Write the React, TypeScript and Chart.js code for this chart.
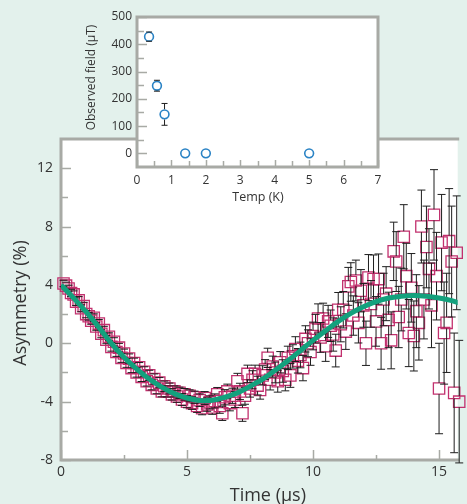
import React, { useEffect, useRef } from "react";
import { Chart, registerables } from "chart.js";

Chart.register(...registerables);

const FONT = '"Open Sans", "Noto Sans", sans-serif';
const MINT = "#e3f1ec";
const AXIS_GRAY = "#a8aaa5";
const TEXT = "#333333";
const MAGENTA = "#c2306e";
const GREEN = "#13a17d";
const BLUE = "#2a83c5";
const BAR = "#1e1e1e";

// ---- main panel: muon spin asymmetry vs time ----
const timeUs = [
  0.1, 0.2, 0.3, 0.4, 0.5, 0.6, 0.7, 0.8, 0.9, 1.0,
  1.1, 1.2, 1.3, 1.4, 1.5, 1.6, 1.7, 1.8, 1.9, 2.0,
  2.1, 2.2, 2.3, 2.4, 2.5, 2.6, 2.7, 2.8, 2.9, 3.0,
  3.1, 3.2, 3.3, 3.4, 3.5, 3.6, 3.7, 3.8, 3.9, 4.0,
  4.1, 4.2, 4.3, 4.4, 4.5, 4.6, 4.7, 4.8, 4.9, 5.0,
  5.1, 5.2, 5.3, 5.4, 5.5, 5.6, 5.7, 5.8, 5.9, 6.0,
  6.1, 6.2, 6.3, 6.4, 6.5, 6.6, 6.7, 6.8, 6.9, 7.0,
  7.1, 7.2, 7.3, 7.4, 7.5, 7.6, 7.7, 7.8, 7.9, 8.0,
  8.1, 8.2, 8.3, 8.4, 8.5, 8.6, 8.7, 8.8, 8.9, 9.0,
  9.1, 9.2, 9.3, 9.4, 9.5, 9.6, 9.7, 9.8, 9.9, 10.0,
  10.1, 10.2, 10.3, 10.4, 10.5, 10.6, 10.7, 10.8, 10.9, 11.0,
  11.1, 11.2, 11.3, 11.4, 11.5, 11.6, 11.7, 11.8, 11.9, 12.0,
  12.1, 12.2, 12.3, 12.4, 12.5, 12.6, 12.7, 12.8, 12.9, 13.0,
  13.1, 13.2, 13.3, 13.4, 13.5, 13.6, 13.7, 13.8, 13.9, 14.0,
  14.1, 14.2, 14.3, 14.4, 14.5, 14.6, 14.7, 14.8, 14.9, 15.0,
  15.1, 15.2, 15.3, 15.4, 15.5, 15.6, 15.7, 15.8,
];

const asymmetry = [
  4.1, 3.95, 3.75, 3.45, 3.35, 2.85, 2.95, 2.4, 2.55, 2.0,
  1.85, 1.55, 1.75, 1.15, 1.35, 0.65, 0.9, 0.25, 0.45, -0.25,
  0.1, -0.6, -0.3, -1.0, -0.7, -1.35, -1.05, -1.7, -1.35, -2.0,
  -1.65, -2.3, -1.95, -2.6, -2.2, -2.85, -2.45, -3.1, -2.7, -3.3,
  -2.95, -3.3, -3.1, -3.5, -3.3, -3.65, -3.4, -3.85, -3.5, -4.0,
  -3.6, -4.1, -3.7, -4.3, -3.9, -4.45, -3.75, -4.2, -4.05, -4.4,
  -3.95, -3.5, -4.3, -4.8, -3.7, -3.3, -4.1, -3.6, -3.85, -2.6,
  -3.3, -4.8, -3.6, -2.1, -3.1, -2.5, -2.1, -2.9, -3.2, -2.2,
  -1.8, -1.0, -2.5, -1.6, -2.0, -2.6, -1.3, -1.9, -2.5, -1.0,
  -2.2, -0.9, -0.4, -1.2, -0.8, -1.7, 0.3, 0.0, -0.6, 0.5,
  1.0, 1.7, 0.4, 1.7, -0.2, 1.5, 1.2, 0.6, -0.5, 2.3,
  1.3, 2.3, 0.8, 3.9, 4.2, 1.9, 4.3, 1.4, 3.6, 2.6,
  0.0, 4.5, 2.7, 4.4, 1.5, 4.4, 0.0, 3.0, 3.4, 1.6,
  0.2, 6.3, 5.6, 1.8, 3.0, 7.3, 4.6, 0.7, 3.8, 0.5,
  2.2, 1.4, 8.0, 3.0, 6.6, 5.1, 2.6, 8.8, 4.6, -3.1,
  6.9, 0.7, 1.4, 7.0, 5.6, -3.4, 6.2, -4.0,
];

const asymmetryErr = [
  0.22, 0.24, 0.23, 0.25, 0.24, 0.26, 0.25, 0.24, 0.26, 0.25,
  0.26, 0.25, 0.27, 0.26, 0.28, 0.27, 0.26, 0.28, 0.27, 0.29,
  0.28, 0.3, 0.29, 0.31, 0.3, 0.3, 0.32, 0.31, 0.33, 0.32,
  0.33, 0.32, 0.34, 0.33, 0.35, 0.34, 0.35, 0.36, 0.35, 0.37,
  0.36, 0.38, 0.37, 0.39, 0.38, 0.4, 0.39, 0.41, 0.4, 0.42,
  0.41, 0.43, 0.42, 0.44, 0.43, 0.45, 0.44, 0.46, 0.45, 0.47,
  0.48, 0.47, 0.5, 0.49, 0.52, 0.5, 0.53, 0.52, 0.55, 0.54,
  0.56, 0.55, 0.58, 0.6, 0.59, 0.62, 0.6, 0.64, 0.63, 0.66,
  0.68, 0.66, 0.7, 0.72, 0.71, 0.75, 0.73, 0.77, 0.76, 0.8,
  0.82, 0.8, 0.85, 0.84, 0.88, 0.87, 0.9, 0.92, 0.91, 0.95,
  0.98, 1.0, 1.02, 1.05, 1.04, 1.1, 1.08, 1.14, 1.12, 1.18,
  1.2, 1.25, 1.22, 1.3, 1.32, 1.35, 1.4, 1.38, 1.45, 1.5,
  1.52, 1.58, 1.6, 1.65, 1.7, 1.72, 1.78, 1.8, 1.85, 1.9,
  1.95, 2.0, 2.05, 2.1, 2.15, 2.2, 2.25, 2.3, 2.35, 2.4,
  2.5, 2.55, 2.5, 2.7, 2.8, 2.75, 2.9, 3.1, 3.0, 3.1,
  3.3, 3.5, 3.4, 3.6, 3.8, 4.1, 3.9, 4.2,
];

// fitted curve
const fitTime = [
  0, 0.5, 1, 1.5, 2, 2.5, 3, 3.5, 4, 4.5, 5, 5.5, 6, 6.5, 7, 7.5,
  8, 8.5, 9, 9.5, 10, 10.5, 11, 11.5, 12, 12.5, 13, 13.5, 14, 14.5, 15, 15.5, 16,
];
const fitAsym = [
  4.0, 3.1, 2.15, 1.1, 0.0, -0.95, -1.75, -2.45, -3.0, -3.45, -3.75, -3.92, -3.9, -3.7, -3.4, -2.95,
  -2.45, -1.85, -1.2, -0.5, 0.2, 0.85, 1.5, 2.05, 2.5, 2.85, 3.1, 3.22, 3.27, 3.22, 3.1, 2.92, 2.65,
];

const xTickValues = [0, 5, 10, 15];
const xMinorTickValues = [2.5, 7.5, 12.5];
const yTickValues = [-8, -4, 0, 4, 8, 12];
const yMinorTickValues = [-6, -2, 2, 6, 10];
const xMin = 0;
const xMax = 15.74;
const yMin = -8;
const yMax = 14;

// ---- inset: observed field vs temperature ----
const tempK = [0.35, 0.58, 0.8, 1.4, 2.0, 5.0];
const fieldUT = [428, 248, 143, 0, 0, 0];
const fieldErr = [17, 20, 40, 0, 0, 0];
const insetXTickValues = [0, 1, 2, 3, 4, 5, 6, 7];
const insetXMinorTickValues = [0.5, 1.5, 2.5, 3.5, 4.5, 5.5, 6.5];
const insetYTickValues = [0, 100, 200, 300, 400, 500];
const insetYMinorTickValues = [50, 150, 250, 350, 450];

type TickSet = { values: number[]; len: number };

function makeFramePlugin(cfg: {
  pageColor?: string;
  sides: { top: boolean; right: boolean; bottom: boolean; left: boolean };
  xTicks: TickSet[];
  yTicks: TickSet[];
}) {
  return {
    id: "frame",
    beforeDraw(chart: any) {
      const { ctx, chartArea: a } = chart;
      ctx.save();
      if (cfg.pageColor) {
        ctx.fillStyle = cfg.pageColor;
        ctx.fillRect(0, 0, chart.width, chart.height);
      }
      ctx.fillStyle = "#ffffff";
      ctx.fillRect(a.left, a.top, a.right - a.left, a.bottom - a.top);
      ctx.restore();
    },
    beforeDatasetsDraw(chart: any) {
      const { ctx, chartArea: a } = chart;
      const xs = chart.scales.x;
      const ys = chart.scales.y;
      ctx.save();
      ctx.strokeStyle = AXIS_GRAY;
      ctx.lineWidth = 1.5;
      ctx.beginPath();
      cfg.xTicks.forEach((set) => {
        set.values.forEach((v) => {
          const x = Math.round(xs.getPixelForValue(v)) + 0.5;
          ctx.moveTo(x, a.bottom);
          ctx.lineTo(x, a.bottom - set.len);
        });
      });
      cfg.yTicks.forEach((set) => {
        set.values.forEach((v) => {
          const y = Math.round(ys.getPixelForValue(v)) + 0.5;
          ctx.moveTo(a.left, y);
          ctx.lineTo(a.left + set.len, y);
        });
      });
      ctx.stroke();
      ctx.lineWidth = 3;
      ctx.lineCap = "square";
      ctx.beginPath();
      if (cfg.sides.left) {
        ctx.moveTo(a.left, a.top);
        ctx.lineTo(a.left, a.bottom);
      }
      if (cfg.sides.bottom) {
        ctx.moveTo(a.left, a.bottom);
        ctx.lineTo(a.right, a.bottom);
      }
      if (cfg.sides.top) {
        ctx.moveTo(a.left, a.top);
        ctx.lineTo(a.right, a.top);
      }
      if (cfg.sides.right) {
        ctx.moveTo(a.right, a.top);
        ctx.lineTo(a.right, a.bottom);
      }
      ctx.stroke();
      ctx.restore();
    },
  };
}

function makeErrorBarPlugin(datasetIndex: number, errors: number[], markerHalf: number, capHalf: number) {
  return {
    id: "errorBars" + datasetIndex,
    afterDatasetDraw(chart: any, args: any) {
      if (args.index !== datasetIndex) return;
      const xs = chart.scales.x;
      const ys = chart.scales.y;
      const ctx = chart.ctx;
      const data = chart.data.datasets[datasetIndex].data as { x: number; y: number }[];
      ctx.save();
      ctx.strokeStyle = BAR;
      ctx.lineWidth = 1;
      ctx.beginPath();
      data.forEach((d, i) => {
        const e = errors[i];
        if (!e) return;
        const x = xs.getPixelForValue(d.x);
        const y = ys.getPixelForValue(d.y);
        const yTop = ys.getPixelForValue(d.y + e);
        const yBot = ys.getPixelForValue(d.y - e);
        if (y - yTop > markerHalf) {
          ctx.moveTo(x, yTop);
          ctx.lineTo(x, y - markerHalf);
          ctx.moveTo(x, y + markerHalf);
          ctx.lineTo(x, yBot);
        }
        ctx.moveTo(x - capHalf, yTop);
        ctx.lineTo(x + capHalf, yTop);
        ctx.moveTo(x - capHalf, yBot);
        ctx.lineTo(x + capHalf, yBot);
      });
      ctx.stroke();
      ctx.restore();
    },
  };
}

type TitleItem = {
  text: string;
  size: number;
  rotate: boolean;
  anchor: "bottom" | "left";
  dx: number;
  dy: number;
};

function makeTitlePlugin(items: TitleItem[]) {
  return {
    id: "axisTitles",
    afterDraw(chart: any) {
      const { ctx, chartArea: a } = chart;
      items.forEach((it) => {
        ctx.save();
        ctx.fillStyle = TEXT;
        ctx.font = `${it.size}px ${FONT}`;
        ctx.textAlign = "center";
        ctx.textBaseline = "alphabetic";
        if (it.anchor === "bottom") {
          ctx.fillText(it.text, (a.left + a.right) / 2 + it.dx, a.bottom + it.dy);
        } else {
          ctx.translate(a.left + it.dx, (a.top + a.bottom) / 2 + it.dy);
          if (it.rotate) ctx.rotate(-Math.PI / 2);
          ctx.fillText(it.text, 0, 0);
        }
        ctx.restore();
      });
    },
  };
}

export default function App() {
  const mainRef = useRef<HTMLCanvasElement | null>(null);
  const insetRef = useRef<HTMLCanvasElement | null>(null);

  useEffect(() => {
    const mainPoints = timeUs.map((t, i) => ({ x: t, y: asymmetry[i] }));
    const fitPoints = fitTime.map((t, i) => ({ x: t, y: fitAsym[i] }));

    const main = new Chart(mainRef.current as HTMLCanvasElement, {
      type: "scatter",
      data: {
        datasets: [
          {
            data: fitPoints,
            showLine: true,
            pointRadius: 0,
            borderColor: GREEN,
            borderWidth: 5,
            tension: 0.4,
            order: 0,
          } as any,
          {
            data: mainPoints,
            pointStyle: "rect",
            pointRadius: 8,
            pointBorderWidth: 1.3,
            pointBorderColor: MAGENTA,
            pointBackgroundColor: "rgba(0,0,0,0)",
            borderColor: MAGENTA,
            backgroundColor: "rgba(0,0,0,0)",
            clip: false,
            order: 1,
          } as any,
        ],
      },
      options: {
        animation: false,
        responsive: false,
        events: [],
        layout: { padding: { top: 139, left: 0, right: 0, bottom: 0 } },
        plugins: { legend: { display: false }, tooltip: { enabled: false } },
        scales: {
          x: {
            type: "linear",
            min: xMin,
            max: xMax,
            grid: { display: false, drawTicks: false },
            border: { display: false },
            afterFit: (s: any) => {
              s.height = 44;
            },
            afterBuildTicks: (s: any) => {
              s.ticks = xTickValues.map((v) => ({ value: v }));
            },
            ticks: {
              padding: 4,
              color: TEXT,
              autoSkip: false,
              maxRotation: 0,
              font: { family: FONT, size: 14 },
              callback: (v: any) => String(v),
            },
          },
          y: {
            type: "linear",
            min: yMin,
            max: yMax,
            grid: { display: false, drawTicks: false },
            border: { display: false },
            afterFit: (s: any) => {
              s.width = 61;
            },
            afterBuildTicks: (s: any) => {
              s.ticks = yTickValues.map((v) => ({ value: v }));
            },
            ticks: {
              padding: 8,
              color: TEXT,
              autoSkip: false,
              font: { family: FONT, size: 14 },
              callback: (v: any) => String(v),
            },
          },
        },
      } as any,
      plugins: [
        makeFramePlugin({
          pageColor: MINT,
          sides: { top: true, right: false, bottom: true, left: true },
          xTicks: [
            { values: xTickValues, len: 10 },
            { values: xMinorTickValues, len: 5 },
          ],
          yTicks: [
            { values: yTickValues, len: 10 },
            { values: yMinorTickValues, len: 7 },
          ],
        }),
        makeErrorBarPlugin(1, asymmetryErr, 5.6, 4),
        makeTitlePlugin([
          { text: "Time (μs)", size: 18, rotate: false, anchor: "bottom", dx: 8.5, dy: 41 },
          { text: "Asymmetry (%)", size: 18, rotate: true, anchor: "left", dx: -35, dy: 3.5 },
        ]),
      ],
    });

    const insetPoints = tempK.map((t, i) => ({ x: t, y: fieldUT[i] }));
    const inset = new Chart(insetRef.current as HTMLCanvasElement, {
      type: "scatter",
      data: {
        datasets: [
          {
            data: insetPoints,
            pointStyle: "circle",
            pointRadius: 4.4,
            pointBorderWidth: 1.6,
            pointBorderColor: BLUE,
            pointBackgroundColor: "rgba(0,0,0,0)",
            borderColor: BLUE,
            backgroundColor: "rgba(0,0,0,0)",
            clip: false,
          } as any,
        ],
      },
      options: {
        animation: false,
        responsive: false,
        events: [],
        layout: { padding: { top: 17, left: 0, right: 89, bottom: 0 } },
        plugins: { legend: { display: false }, tooltip: { enabled: false } },
        scales: {
          x: {
            type: "linear",
            min: 0,
            max: 7,
            grid: { display: false, drawTicks: false },
            border: { display: false },
            afterFit: (s: any) => {
              s.height = 53;
            },
            afterBuildTicks: (s: any) => {
              s.ticks = insetXTickValues.map((v) => ({ value: v }));
            },
            ticks: {
              padding: 6,
              color: TEXT,
              autoSkip: false,
              maxRotation: 0,
              font: { family: FONT, size: 12 },
              callback: (v: any) => String(v),
            },
          },
          y: {
            type: "linear",
            min: -50,
            max: 500,
            grid: { display: false, drawTicks: false },
            border: { display: false },
            afterFit: (s: any) => {
              s.width = 137;
            },
            afterBuildTicks: (s: any) => {
              s.ticks = insetYTickValues.map((v) => ({ value: v }));
            },
            ticks: {
              padding: 5,
              color: TEXT,
              autoSkip: false,
              font: { family: FONT, size: 12 },
              callback: (v: any) => String(v),
            },
          },
        },
      } as any,
      plugins: [
        makeFramePlugin({
          sides: { top: true, right: true, bottom: true, left: true },
          xTicks: [
            { values: insetXTickValues, len: 7 },
            { values: insetXMinorTickValues, len: 6 },
          ],
          yTicks: [
            { values: insetYTickValues, len: 10 },
            { values: insetYMinorTickValues, len: 7 },
          ],
        }),
        makeErrorBarPlugin(0, fieldErr, 5.2, 3),
        makeTitlePlugin([
          { text: "Temp (K)", size: 12.5, rotate: false, anchor: "bottom", dx: 0.5, dy: 34 },
          { text: "Observed field (μT)", size: 12, rotate: true, anchor: "left", dx: -42, dy: -14.5 },
        ]),
      ],
    });

    return () => {
      main.destroy();
      inset.destroy();
    };
  }, []);

  return (
    <div
      style={{
        position: "fixed",
        left: 0,
        top: 0,
        width: 467,
        height: 504,
        overflow: "hidden",
        background: MINT,
      }}
    >
      <canvas
        ref={mainRef}
        width={467}
        height={504}
        style={{ position: "absolute", left: 0, top: 0, width: 467, height: 504 }}
      />
      <canvas
        ref={insetRef}
        width={467}
        height={220}
        style={{ position: "absolute", left: 0, top: 0, width: 467, height: 220 }}
      />
    </div>
  );
}
